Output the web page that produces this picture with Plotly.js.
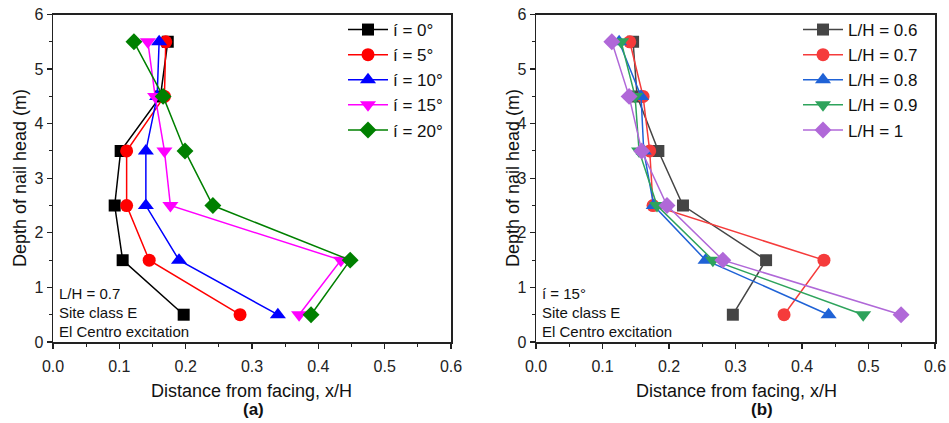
<!DOCTYPE html>
<html>
<head>
<meta charset="utf-8">
<script src="https://cdn.plot.ly/plotly-3.0.1.min.js"></script>
<style>html,body{margin:0;padding:0;background:#fff;}#chart{width:949px;height:423px;}</style>
</head>
<body>
<div id="chart"></div>
<script>
// ---- data ----
const depth = [5.5, 4.5, 3.5, 2.5, 1.5, 0.5];

// (a) inclination series, L/H = 0.7
const angleNames = ['í = 0°', 'í = 5°', 'í = 10°', 'í = 15°', 'í = 20°'];
const a_i0  = [0.173, 0.162, 0.102, 0.093, 0.105, 0.197];
const a_i5  = [0.170, 0.168, 0.111, 0.111, 0.145, 0.282];
const a_i10 = [0.160, 0.157, 0.140, 0.140, 0.190, 0.339];
const a_i15 = [0.143, 0.154, 0.168, 0.177, 0.434, 0.371];
const a_i20 = [0.122, 0.166, 0.199, 0.241, 0.448, 0.389];

// (b) L/H series, inclination 15°
const lhNames = ['L/H = 0.6', 'L/H = 0.7', 'L/H = 0.8', 'L/H = 0.9', 'L/H = 1'];
const b_lh06 = [0.146, 0.152, 0.184, 0.221, 0.346, 0.296];
const b_lh07 = [0.141, 0.161, 0.171, 0.176, 0.433, 0.373];
const b_lh08 = [0.125, 0.158, 0.162, 0.177, 0.255, 0.440];
const b_lh09 = [0.128, 0.149, 0.155, 0.182, 0.266, 0.492];
const b_lh10 = [0.114, 0.140, 0.159, 0.197, 0.281, 0.549];

const xTickVals = [0, 0.1, 0.2, 0.3, 0.4, 0.5, 0.6];
const xTickText = ['0.0', '0.1', '0.2', '0.3', '0.4', '0.5', '0.6'];
const yTickVals = [0, 1, 2, 3, 4, 5, 6];

// ---- styles ----
const W = 949, H = 423;
const px = v => v / W;
const py = v => 1 - v / H;
const FONT = 'Liberation Sans, Arial, sans-serif';

const aColors = ['#000000', '#ff0000', '#0000ff', '#ff00ff', '#008000'];
const aSymbols = ['square', 'circle', 'triangle-up', 'triangle-down', 'diamond'];
const bColors = ['#454545', '#f53b3b', '#1f62d6', '#2ea35c', '#b068d8'];
const bSymbols = aSymbols;
const mSizes = [12, 13, 14, 14, 13];

const aSeries = [a_i0, a_i5, a_i10, a_i15, a_i20];
const bSeries = [b_lh06, b_lh07, b_lh08, b_lh09, b_lh10];

const traces = [];
aSeries.forEach((xs, i) => {
  traces.push({
    x: xs, y: depth, name: angleNames[i], type: 'scatter', mode: 'lines+markers',
    xaxis: 'x', yaxis: 'y', legend: 'legend',
    line: {color: aColors[i], width: 1.5},
    marker: {symbol: aSymbols[i], size: mSizes[i], color: aColors[i]}
  });
});
bSeries.forEach((xs, i) => {
  traces.push({
    x: xs, y: depth, name: lhNames[i], type: 'scatter', mode: 'lines+markers',
    xaxis: 'x2', yaxis: 'y2', legend: 'legend2',
    line: {color: bColors[i], width: 1.5},
    marker: {symbol: bSymbols[i], size: mSizes[i], color: bColors[i]}
  });
});

function xAxis(domain, anchor) {
  return {
    domain: domain, anchor: anchor, range: [0, 0.6], tickvals: xTickVals, ticktext: xTickText,
    showline: true, mirror: true, linecolor: '#222', linewidth: 1.5,
    ticks: 'outside', ticklen: 5, tickwidth: 1.2, tickcolor: '#222',
    minor: {ticks: 'outside', ticklen: 3, tickwidth: 1, tickcolor: '#222', dtick: 0.05, showgrid: false},
    showgrid: false, zeroline: false, tickfont: {family: FONT, size: 16, color: '#222'},
    ticklabelstandoff: 4
  };
}
function yAxis(domain, anchor) {
  return {
    domain: domain, anchor: anchor, range: [0, 6], tickvals: yTickVals,
    showline: true, mirror: true, linecolor: '#222', linewidth: 1.5,
    ticks: 'outside', ticklen: 5, tickwidth: 1.2, tickcolor: '#222',
    minor: {ticks: 'outside', ticklen: 3, tickwidth: 1, tickcolor: '#222', dtick: 0.5, showgrid: false},
    showgrid: false, zeroline: false, tickfont: {family: FONT, size: 16, color: '#222'}
  };
}

const yDom = [py(342), py(14.5)];

function legendBox(xLeft) {
  return {
    x: px(xLeft), y: py(12), xanchor: 'left', yanchor: 'top',
    bgcolor: 'rgba(0,0,0,0)', borderwidth: 0, itemwidth: 40,
    font: {family: FONT, size: 17, color: '#111'}, tracegroupgap: 0
  };
}

const ann = [];
function txt(t, x, y, opts) {
  ann.push(Object.assign({
    text: t, x: px(x), y: py(y), xref: 'paper', yref: 'paper', showarrow: false,
    xanchor: 'left', yanchor: 'middle', font: {family: FONT, size: 15, color: '#111'}
  }, opts || {}));
}
// axis titles
txt('Depth of nail head (m)', 20, 178, {xanchor: 'center', textangle: -90, font: {family: FONT, size: 18, color: '#111'}});
txt('Depth of nail head (m)', 513, 178, {xanchor: 'center', textangle: -90, font: {family: FONT, size: 18, color: '#111'}});
txt('Distance from facing, x/H', 252, 391, {xanchor: 'center', font: {family: FONT, size: 18, color: '#111'}});
txt('Distance from facing, x/H', 736, 391, {xanchor: 'center', font: {family: FONT, size: 18, color: '#111'}});
txt('<b>(a)</b>', 253, 409, {xanchor: 'center', font: {family: FONT, size: 17, color: '#111'}});
txt('<b>(b)</b>', 762, 409, {xanchor: 'center', font: {family: FONT, size: 17, color: '#111'}});
// in-plot notes
txt('L/H = 0.7', 57, 293);
txt('Site class E', 57, 312);
txt('El Centro excitation', 57, 331);
txt('í = 15°', 540, 293);
txt('Site class E', 540, 312);
txt('El Centro excitation', 540, 331);

const layout = {
  width: W, height: H, margin: {l: 0, r: 0, t: 0, b: 0},
  paper_bgcolor: '#ffffff', plot_bgcolor: '#ffffff',
  xaxis: xAxis([px(53), px(451)], 'y'),
  yaxis: yAxis(yDom, 'x'),
  xaxis2: xAxis([px(536), px(935)], 'y2'),
  yaxis2: yAxis(yDom, 'x2'),
  legend: legendBox(343),
  legend2: legendBox(798),
  annotations: ann,
  showlegend: true
};

Plotly.newPlot('chart', traces, layout, {displayModeBar: false, staticPlot: true});
</script>
</body>
</html>
